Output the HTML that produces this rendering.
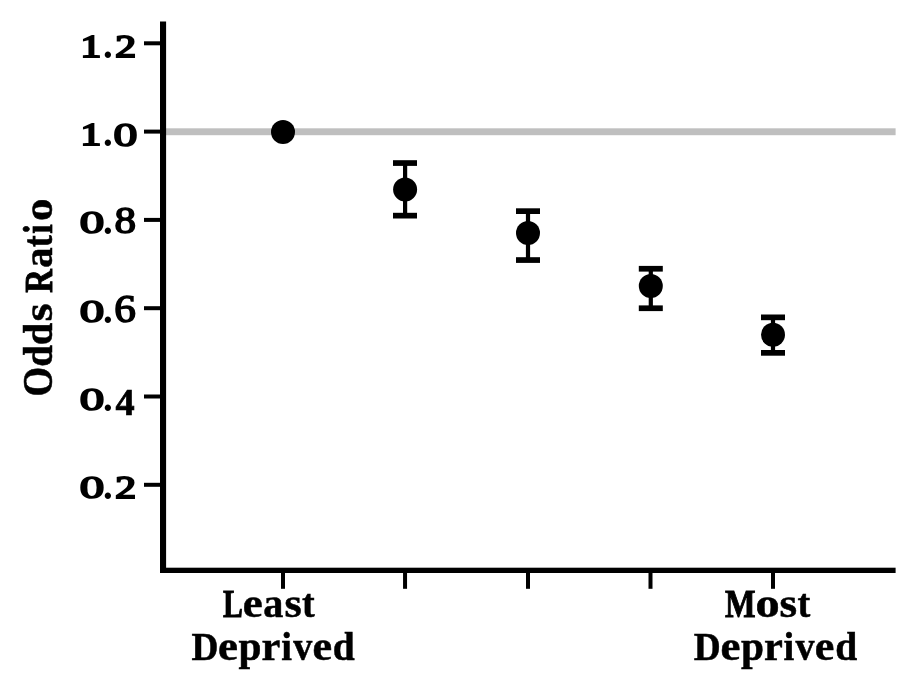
<!DOCTYPE html>
<html>
<head>
<meta charset="utf-8">
<title>Odds Ratio</title>
<style>
html,body{margin:0;padding:0;background:#fff;}
body{width:917px;height:688px;overflow:hidden;position:relative;}
svg{position:absolute;left:0;top:0;display:block;}
.lb{font-family:"Liberation Serif","DejaVu Serif",serif;font-weight:bold;font-size:40px;fill:#000;stroke:#000;stroke-width:0.5px;stroke-linejoin:miter;stroke-miterlimit:3;}
.tk{font-family:"Liberation Serif","DejaVu Serif",serif;font-weight:bold;fill:#000;stroke-linejoin:miter;stroke-miterlimit:3;}
</style>
</head>
<body>
<svg width="917" height="688" viewBox="0 0 917 688">
<rect x="0" y="0" width="917" height="688" fill="#ffffff"/>
<!-- reference line -->
<rect x="166" y="128.3" width="729.6" height="6.9" fill="#bfbfbf"/>
<!-- axes -->
<rect x="160" y="21.5" width="6.1" height="551.5" fill="#000"/>
<rect x="160" y="567.7" width="735.6" height="5.3" fill="#000"/>
<!-- y ticks -->
<g fill="#000">
<rect x="144" y="41.3" width="17" height="4"/>
<rect x="144" y="129.6" width="17" height="4"/>
<rect x="144" y="217.9" width="17" height="4"/>
<rect x="144" y="306.2" width="17" height="4"/>
<rect x="144" y="394.5" width="17" height="4"/>
<rect x="144" y="482.8" width="17" height="4"/>
</g>
<!-- x ticks -->
<g fill="#000">
<rect x="281" y="572" width="4" height="16.8"/>
<rect x="403.05" y="572" width="4" height="16.8"/>
<rect x="526" y="572" width="4" height="16.8"/>
<rect x="648.5" y="572" width="4" height="16.8"/>
<rect x="771" y="572" width="4" height="16.8"/>
</g>
<!-- points + error bars -->
<g fill="#000">
<circle cx="283" cy="131.9" r="12"/>
<rect x="403" y="163" width="4.2" height="52.7"/>
<rect x="393" y="160.2" width="24" height="5.7"/>
<rect x="393" y="212.8" width="24" height="5.7"/>
<circle cx="405.1" cy="189.4" r="12"/>
<rect x="525.9" y="211" width="4.2" height="49"/>
<rect x="516" y="208.3" width="24" height="5.7"/>
<rect x="516" y="257.2" width="24" height="5.7"/>
<circle cx="528" cy="233.1" r="12"/>
<rect x="648.7" y="268.7" width="4.2" height="39.6"/>
<rect x="638.8" y="265.9" width="24" height="5.7"/>
<rect x="638.8" y="305.4" width="24" height="5.7"/>
<circle cx="650.8" cy="286" r="12"/>
<rect x="770.9" y="317.3" width="4.2" height="35.5"/>
<rect x="761" y="314.5" width="24" height="5.7"/>
<rect x="761" y="350" width="24" height="5.7"/>
<circle cx="773" cy="334.8" r="12"/>
</g>
<!-- axis labels -->
<text class="lb" transform="rotate(-90)" y="51.80"><tspan x="-396.39" font-size="41.68" textLength="29.73" lengthAdjust="spacingAndGlyphs" stroke-width="0.50">O</tspan><tspan x="-366.87" font-size="41.68" textLength="21.77" lengthAdjust="spacingAndGlyphs" stroke-width="0.50">d</tspan><tspan x="-345.32" font-size="41.68" textLength="22.53" lengthAdjust="spacingAndGlyphs" stroke-width="0.50">d</tspan><tspan x="-321.42" font-size="41.68" textLength="18.11" lengthAdjust="spacingAndGlyphs" stroke-width="0.50">s</tspan> <tspan x="-292.86" font-size="40.92" textLength="23.57" lengthAdjust="spacingAndGlyphs" stroke-width="1.00">R</tspan><tspan x="-267.66" font-size="41.68" textLength="20.32" lengthAdjust="spacingAndGlyphs" stroke-width="0.50">a</tspan><tspan x="-246.88" font-size="41.45" textLength="11.55" lengthAdjust="spacingAndGlyphs" stroke-width="0.65">t</tspan><tspan x="-233.73" font-size="41.28" textLength="9.42" lengthAdjust="spacingAndGlyphs" stroke-width="0.76">i</tspan><tspan x="-221.13" font-size="41.68" textLength="22.36" lengthAdjust="spacingAndGlyphs" stroke-width="0.50">o</tspan></text>
<text class="lb" y="616.70"><tspan x="222.97" font-size="39.69" textLength="19.80" lengthAdjust="spacingAndGlyphs" stroke-width="1.00">L</tspan><tspan x="242.85" font-size="40.46" textLength="19.93" lengthAdjust="spacingAndGlyphs" stroke-width="0.50">e</tspan><tspan x="263.26" font-size="40.46" textLength="20.09" lengthAdjust="spacingAndGlyphs" stroke-width="0.50">a</tspan><tspan x="284.44" font-size="40.46" textLength="17.25" lengthAdjust="spacingAndGlyphs" stroke-width="0.50">s</tspan><tspan x="302.03" font-size="40.46" textLength="12.69" lengthAdjust="spacingAndGlyphs" stroke-width="0.50">t</tspan></text>
<text class="lb" y="660.30"><tspan x="191.46" font-size="40.46" textLength="26.95" lengthAdjust="spacingAndGlyphs" stroke-width="0.50">D</tspan><tspan x="218.05" font-size="40.46" textLength="19.93" lengthAdjust="spacingAndGlyphs" stroke-width="0.50">e</tspan><tspan x="238.62" font-size="40.46" textLength="22.99" lengthAdjust="spacingAndGlyphs" stroke-width="0.50">p</tspan><tspan x="261.62" font-size="40.46" textLength="18.85" lengthAdjust="spacingAndGlyphs" stroke-width="0.50">r</tspan><tspan x="281.19" font-size="40.46" textLength="10.75" lengthAdjust="spacingAndGlyphs" stroke-width="0.50">i</tspan><tspan x="293.14" font-size="40.46" textLength="19.03" lengthAdjust="spacingAndGlyphs" stroke-width="0.50">v</tspan><tspan x="312.47" font-size="40.46" textLength="19.60" lengthAdjust="spacingAndGlyphs" stroke-width="0.50">e</tspan><tspan x="332.82" font-size="40.46" textLength="21.97" lengthAdjust="spacingAndGlyphs" stroke-width="0.50">d</tspan></text>
<text class="lb" y="616.70"><tspan x="724.96" font-size="39.69" textLength="30.57" lengthAdjust="spacingAndGlyphs" stroke-width="1.00">M</tspan><tspan x="755.46" font-size="40.46" textLength="24.18" lengthAdjust="spacingAndGlyphs" stroke-width="0.50">o</tspan><tspan x="779.52" font-size="40.46" textLength="17.59" lengthAdjust="spacingAndGlyphs" stroke-width="0.50">s</tspan><tspan x="797.42" font-size="40.46" textLength="12.79" lengthAdjust="spacingAndGlyphs" stroke-width="0.50">t</tspan></text>
<text class="lb" y="660.30"><tspan x="693.81" font-size="40.46" textLength="26.95" lengthAdjust="spacingAndGlyphs" stroke-width="0.50">D</tspan><tspan x="720.40" font-size="40.46" textLength="19.93" lengthAdjust="spacingAndGlyphs" stroke-width="0.50">e</tspan><tspan x="740.97" font-size="40.46" textLength="22.99" lengthAdjust="spacingAndGlyphs" stroke-width="0.50">p</tspan><tspan x="763.97" font-size="40.46" textLength="18.85" lengthAdjust="spacingAndGlyphs" stroke-width="0.50">r</tspan><tspan x="783.54" font-size="40.46" textLength="10.75" lengthAdjust="spacingAndGlyphs" stroke-width="0.50">i</tspan><tspan x="795.49" font-size="40.46" textLength="19.03" lengthAdjust="spacingAndGlyphs" stroke-width="0.50">v</tspan><tspan x="814.82" font-size="40.46" textLength="19.60" lengthAdjust="spacingAndGlyphs" stroke-width="0.50">e</tspan><tspan x="835.17" font-size="40.46" textLength="21.97" lengthAdjust="spacingAndGlyphs" stroke-width="0.50">d</tspan></text>
<!-- y tick labels -->
<g class="tk">
<text><tspan x="80.48" y="57" font-size="31.73" textLength="20.69" lengthAdjust="spacingAndGlyphs" font-weight="normal" stroke="#000" stroke-width="1.90">1</tspan><tspan x="102.99" y="58" font-size="39.51" textLength="9.72" lengthAdjust="spacingAndGlyphs">.</tspan><tspan x="115.24" y="57" font-size="30.94" textLength="20.78" lengthAdjust="spacingAndGlyphs" font-weight="normal" stroke="#000" stroke-width="1.90">2</tspan></text>
<text><tspan x="80.48" y="145" font-size="31.73" textLength="20.69" lengthAdjust="spacingAndGlyphs" font-weight="normal" stroke="#000" stroke-width="1.90">1</tspan><tspan x="102.99" y="146" font-size="39.51" textLength="9.72" lengthAdjust="spacingAndGlyphs">.</tspan><tspan x="113.54" y="146" font-size="33.19" textLength="23.92" lengthAdjust="spacingAndGlyphs" font-weight="normal" stroke="#000" stroke-width="1.70">0</tspan></text>
<text><tspan x="79.79" y="233" font-size="31.12" textLength="24.42" lengthAdjust="spacingAndGlyphs" font-weight="normal" stroke="#000" stroke-width="1.70">0</tspan><tspan x="102.99" y="234" font-size="39.51" textLength="9.72" lengthAdjust="spacingAndGlyphs">.</tspan><tspan x="114.48" y="233" font-size="37.63" textLength="21.54" lengthAdjust="spacingAndGlyphs" font-weight="normal" stroke="#000" stroke-width="1.60">8</tspan></text>
<text><tspan x="79.75" y="322" font-size="31.59" textLength="24.45" lengthAdjust="spacingAndGlyphs" font-weight="normal" stroke="#000" stroke-width="1.70">0</tspan><tspan x="102.99" y="323" font-size="39.51" textLength="9.72" lengthAdjust="spacingAndGlyphs">.</tspan><tspan x="114.16" y="322" font-size="39.99" textLength="21.63" lengthAdjust="spacingAndGlyphs" font-weight="normal" stroke="#000" stroke-width="1.60">6</tspan></text>
<text><tspan x="79.75" y="410" font-size="31.59" textLength="24.45" lengthAdjust="spacingAndGlyphs" font-weight="normal" stroke="#000" stroke-width="1.70">0</tspan><tspan x="102.99" y="411" font-size="39.51" textLength="9.72" lengthAdjust="spacingAndGlyphs">.</tspan><tspan x="115.61" y="415" font-size="38.30" textLength="19.16" lengthAdjust="spacingAndGlyphs" stroke="#000" stroke-width="0.70">4</tspan></text>
<text><tspan x="79.76" y="498" font-size="31.35" textLength="24.44" lengthAdjust="spacingAndGlyphs" font-weight="normal" stroke="#000" stroke-width="1.70">0</tspan><tspan x="102.99" y="499" font-size="39.51" textLength="9.72" lengthAdjust="spacingAndGlyphs">.</tspan><tspan x="115.28" y="498" font-size="30.81" textLength="20.78" lengthAdjust="spacingAndGlyphs" font-weight="normal" stroke="#000" stroke-width="1.90">2</tspan></text>
</g>
</svg>
</body>
</html>
